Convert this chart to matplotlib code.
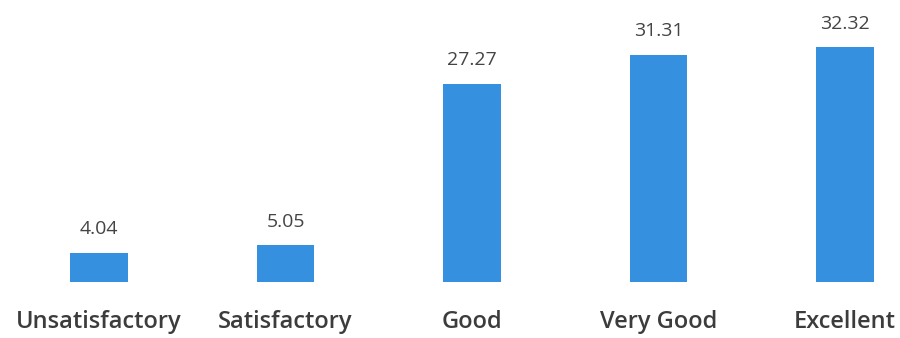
import matplotlib
matplotlib.use("Agg")
import matplotlib.pyplot as plt

categories = ["Unsatisfactory", "Satisfactory", "Good", "Very Good", "Excellent"]
percentages = [4.04, 5.05, 27.27, 31.31, 32.32]
value_labels = ["4.04", "5.05", "27.27", "31.31", "32.32"]

bar_color = "#3590e0"
text_color = "#3c3c3c"

plt.rcParams["font.family"] = ["Open Sans", "DejaVu Sans"]

fig = plt.figure(figsize=(9, 3.38), dpi=100)
ax = fig.add_axes([0, 56 / 338, 1, 282 / 338])

x = list(range(len(categories)))
bars = ax.bar(x, percentages, width=0.31, color=bar_color, zorder=2)

for xi, v, lab in zip(x, percentages, value_labels):
    ax.annotate(lab, (xi, v), xytext=(0, 17), textcoords="offset points",
                ha="center", va="center", fontsize=14, color="#444444")

ax.set_xlim(-0.531, 4.295)
ax.set_ylim(0, 38.84)
ax.set_xticks(x)
ax.set_xticklabels(categories, fontsize=17, fontweight="semibold", color=text_color)
ax.tick_params(axis="x", length=0, pad=20)
ax.set_yticks([])
for s in ax.spines.values():
    s.set_visible(False)

fig.savefig("out.png", dpi=100, facecolor="white")
